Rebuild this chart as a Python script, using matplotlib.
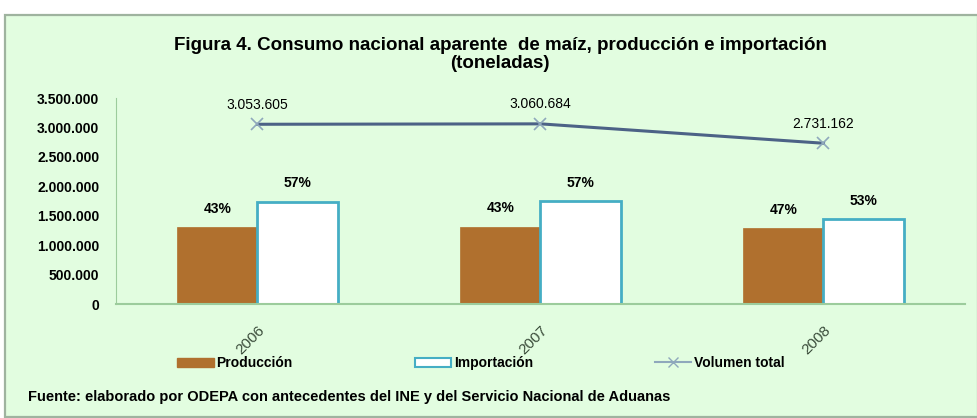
import matplotlib
matplotlib.use("Agg")
import matplotlib.pyplot as plt
from matplotlib.patches import Patch, Rectangle
from matplotlib.lines import Line2D
import numpy as np

years = ["2006", "2007", "2008"]
produccion = [1313000, 1316100, 1283600]
importacion = [1740600, 1744600, 1447600]
volumen_total = [3053605, 3060684, 2731162]
pct_prod = ["43%", "43%", "47%"]
pct_imp = ["57%", "57%", "53%"]
total_labels = ["3.053.605", "3.060.684", "2.731.162"]
yticks = [0, 500000, 1000000, 1500000, 2000000, 2500000, 3000000, 3500000]
ytick_labels = ["0", "500.000", "1.000.000", "1.500.000", "2.000.000", "2.500.000", "3.000.000", "3.500.000"]

FONT = ["Liberation Sans Narrow", "Liberation Sans", "DejaVu Sans"]
plt.rcParams['font.family'] = FONT

BG = "#e2fde0"
W, H = 978, 418
fig = plt.figure(figsize=(W / 100, H / 100), dpi=100)
fig.patch.set_facecolor("white")

# framed background panel
fig.patches.append(Rectangle((5 / W, 1 / H), (W - 5) / W, (H - 16) / H, transform=fig.transFigure,
                             facecolor=BG, edgecolor="#9fb39f", linewidth=1.6, zorder=-5))

ax = fig.add_axes([116 / W, 114 / H, (965 - 116) / W, 206 / H])
ax.set_zorder(2)
ax.set_facecolor("none")

x = np.arange(len(years))
bw = 0.283
ax.bar(x - bw / 2, produccion, width=bw, color="#b0702e", edgecolor="#b0702e", linewidth=0.5, zorder=2)
ax.bar(x + bw / 2, importacion, width=bw, color="white", edgecolor="#45aec4", linewidth=2, zorder=2)
ax.plot(x, volumen_total, color="#4c6286", linewidth=2.2, marker="x", markersize=8,
        markeredgecolor="#8fa8bc", markeredgewidth=1.2, zorder=3)

for i in range(len(years)):
    ax.annotate(pct_prod[i], (x[i] - bw / 2, produccion[i]), xytext=(0, 8), textcoords="offset points",
                ha="center", va="bottom", fontsize=10, fontweight="bold", color="black")
    ax.annotate(pct_imp[i], (x[i] + bw / 2, importacion[i]), xytext=(0, 8), textcoords="offset points",
                ha="center", va="bottom", fontsize=10, fontweight="bold", color="black")
    ax.annotate(total_labels[i], (x[i], volumen_total[i]), xytext=(0, 9), textcoords="offset points",
                ha="center", va="bottom", fontsize=10, color="black")

ax.set_xlim(-0.5, 2.5)
ax.set_ylim(0, 3500000)
ax.set_yticks(yticks)
ax.set_yticklabels(ytick_labels, fontsize=10, fontweight="bold")
ax.set_xticks(x)
ax.set_xticklabels(years, rotation=45, ha="right", rotation_mode="anchor", fontsize=11, color="#3a4c3a")
ax.tick_params(axis="both", length=0)
ax.tick_params(axis="y", pad=12)
ax.tick_params(axis="x", pad=14)
for s in ["top", "right"]:
    ax.spines[s].set_visible(False)
ax.spines["left"].set_color("#9ccc9c")
ax.spines["bottom"].set_color("#9ccc9c")
ax.spines["bottom"].set_linewidth(1.5)

fig.text(500 / W, 1 - 45 / H, "Figura 4. Consumo nacional aparente  de maíz, producción e importación",
         ha="center", va="center", fontsize=13.5, fontweight="bold")
fig.text(500 / W, 1 - 64 / H, "(toneladas)", ha="center", va="center", fontsize=13.5, fontweight="bold")

handles = [Patch(facecolor="#b0702e", edgecolor="#b0702e"),
           Patch(facecolor="white", edgecolor="#45aec4", linewidth=1.5),
           Line2D([0], [0], color="#8fa8bc", linewidth=1.5, marker="x", markersize=7,
                  markeredgecolor="#8fa8bc")]
leg = fig.legend(handles, ["Producción", "Importación", "Volumen total"], ncol=3,
                 loc="center left", bbox_to_anchor=(165 / W, 1 - 363 / H), frameon=False,
                 prop={"weight": "bold", "size": 10}, columnspacing=8.8, handlelength=2.6,
                 handletextpad=0.2, handleheight=0.6)

fig.text(28 / W, 1 - 397 / H, "Fuente: elaborado por ODEPA con antecedentes del INE y del Servicio Nacional de Aduanas",
         ha="left", va="center", fontsize=10.5, fontweight="bold")

fig.savefig("out.png", dpi=100, facecolor=fig.get_facecolor())
